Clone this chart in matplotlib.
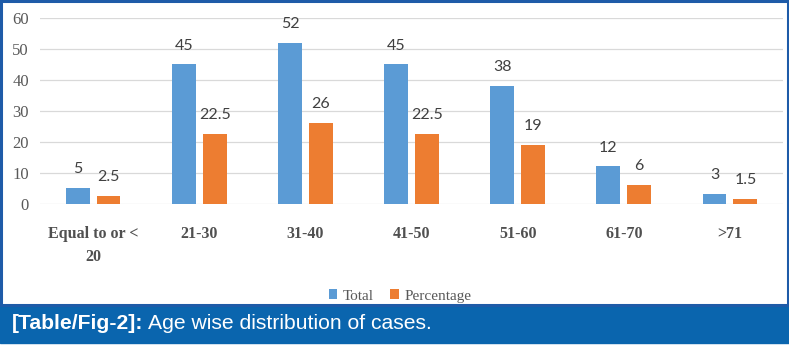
import matplotlib
matplotlib.use("Agg")
import matplotlib.pyplot as plt
from matplotlib.patches import Rectangle
import numpy as np

categories = ["Equal to or <\n20", "21-30", "31-40", "41-50", "51-60", "61-70", ">71"]
total = [5, 45, 52, 45, 38, 12, 3]
percentage = [2.5, 22.5, 26, 22.5, 19, 6, 1.5]
pct_labels = ["2.5", "22.5", "26", "22.5", "19", "6", "1.5"]
yticks = [0, 10, 20, 30, 40, 50, 60]

BLUE = "#5B9BD5"
ORANGE = "#ED7D31"
FRAME = "#1E5BA8"
BAND = "#0A65AE"
TEXT = "#595959"

serif = ["Liberation Serif", "DejaVu Serif"]
sans = ["Lato", "DejaVu Sans"]

fig = plt.figure(figsize=(7.89, 3.47), dpi=100)
ax = fig.add_axes([40 / 789, (347 - 203.5) / 347, (783 - 40) / 789, (203.5 - 18) / 347])

x = np.arange(len(categories))
w = 0.225
off = 0.145
b1 = ax.bar(x - off, total, w, color=BLUE, zorder=3)
b2 = ax.bar(x + off, percentage, w, color=ORANGE, zorder=3)

for xi, v in zip(x, total):
    ax.text(xi - off, v + 3.8, str(v), ha="center", va="bottom",
            fontsize=11.5, color="#404040", family=sans)
for xi, v, s in zip(x, percentage, pct_labels):
    ax.text(xi + off, v + 3.8, s, ha="center", va="bottom",
            fontsize=11.5, color="#404040", family=sans)

ax.set_xlim(-0.5, len(categories) - 0.5)
ax.set_ylim(0, 60)
ax.set_yticks(yticks)
ax.set_yticklabels([str(t) for t in yticks], family=serif, fontsize=12, color=TEXT)
ax.set_xticks(x)
ax.set_xticklabels(categories, family=serif, fontsize=11.5, color="#505050",
                   fontweight="bold", linespacing=1.6)
ax.tick_params(axis="both", length=0)
ax.tick_params(axis="y", pad=8)
ax.tick_params(axis="x", pad=16)
ax.grid(axis="y", color="#D9D9D9", linewidth=0.9, zorder=0)
for sp in ax.spines.values():
    sp.set_visible(False)

leg = fig.legend([b1, b2], ["Total", "Percentage"], loc="center",
                 bbox_to_anchor=(400 / 789, 1 - 296 / 347), ncol=2, frameon=False,
                 prop={"family": serif, "size": 11}, handlelength=0.55, handleheight=0.55,
                 handletextpad=0.35, columnspacing=1.1)
for t in leg.get_texts():
    t.set_color(TEXT)

# caption band and outer frame
fig.patches.append(Rectangle((0, 1 - 343 / 347), 1, 38 / 347, transform=fig.transFigure,
                             color=BAND, zorder=0))
fig.patches.append(Rectangle((1 / 789, 1 - 305 / 347), 787 / 789, 304 / 347,
                             transform=fig.transFigure, fill=False,
                             edgecolor=FRAME, linewidth=2.2, zorder=5))

cap_font = ["Liberation Sans Narrow", "Liberation Sans"]
cap = fig.text(12 / 789, 1 - 323.5 / 347, "[Table/Fig-2]:", color="white", fontsize=15.2,
               fontweight="bold", family=cap_font, va="center", ha="left")
fig.canvas.draw()
bb = cap.get_window_extent()
fig.text((bb.x1 + 5) / 789, 1 - 323.5 / 347, "Age wise distribution of cases.", color="white",
         fontsize=15.2, family=cap_font, va="center", ha="left")

fig.savefig("out.png", dpi=100)
